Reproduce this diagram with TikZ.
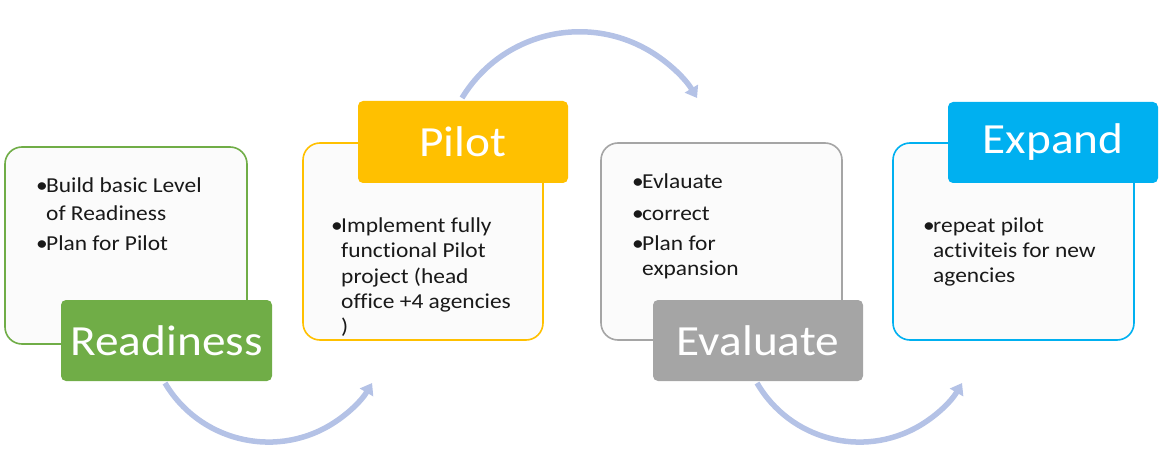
\documentclass[tikz,border=0pt]{standalone}
\usepackage{fontspec}
\setmainfont{Carlito}[FakeStretch=1.1,Ligatures=NoCommon]
\usetikzlibrary{arrows.meta}
\definecolor{cgreen}{HTML}{70AD47}
\definecolor{cgold}{HTML}{FFC000}
\definecolor{cgray}{HTML}{A5A5A5}
\definecolor{cblue}{HTML}{00B0F0}
\definecolor{carrow}{RGB}{180,194,230}
\definecolor{cfill}{HTML}{FBFBFB}
\newcommand\bodyline[4]{\node[body,anchor=base west] (#1) at (#2,-#3) {#4};}
\newcommand\bulletat[3]{\node[body,anchor=base west] (#1) at (#2,-#3) {•};}
\begin{document}
\begin{tikzpicture}[x=1pt,y=1pt,
  cbox/.style={draw=#1,line width=1.6pt,fill=cfill,rounded corners=17pt},
  lbox/.style={fill=#1,draw=none,rounded corners=5pt},
  lbl/.style={text=white,font=\fontsize{43}{50}\selectfont,inner sep=0pt},
  body/.style={font=\fontsize{21.3}{26}\selectfont,inner sep=0pt,text=black!90},
  cyc/.style={draw=carrow,line width=5.5pt,-{Triangle[length=11pt,width=15pt]}}]
\useasboundingbox (0,0) rectangle (1164,-465);
% arrows (behind)
\coordinate (a1s) at (165,-383);
\coordinate (a2s) at (462,-98);
\coordinate (a3s) at (757,-383);
\draw[cyc] (a1s) arc[start angle=210.6,end angle=329.4,radius=120.3];
\draw[cyc] (a2s) arc[start angle=148.8,end angle=31.2,radius=137.4];
\draw[cyc] (a3s) arc[start angle=210.1,end angle=329.9,radius=118.5];
% boxes
\path[cbox=cgreen] (5,-147) rectangle (247,-344);
\path[lbox=cgreen] (61,-300) rectangle (272,-381);
\node[lbl] (lready) at (166.5,-340.5) {Readiness};
\path[cbox=cgold] (303,-143) rectangle (543,-340);
\path[lbox=cgold] (358,-101) rectangle (568,-183);
\node[lbl] (lpilot) at (463,-142) {Pilot};
\path[cbox=cgray] (601,-143) rectangle (842,-340);
\path[lbox=cgray] (653,-300) rectangle (863,-381);
\node[lbl] (leval) at (758,-340.5) {Evaluate};
\path[cbox=cblue] (893,-143) rectangle (1134,-340);
\path[lbox=cblue] (948,-102) rectangle (1158,-183);
\node[lbl] (lexp) at (1053,-142.5) {Expand};
% texts box 1
\bulletat{b1a}{36}{193}\bodyline{t1a}{46}{193}{Build basic Level}
\bodyline{t1b}{46}{220}{of Readiness}
\bulletat{b1c}{36}{250}\bodyline{t1c}{46}{250}{Plan for Pilot}
% box 2
\bulletat{b2a}{331}{232}\bodyline{t2a}{341}{232}{Implement fully}
\bodyline{t2b}{341}{257}{functional Pilot}
\bodyline{t2c}{341}{283}{project (head}
\bodyline{t2d}{341}{308}{office +4 agencies}
\bodyline{t2e}{341}{333}{)}
% box 3
\bulletat{b3a}{632}{189}\bodyline{t3a}{642}{189}{Evlauate}
\bulletat{b3b}{632}{220}\bodyline{t3b}{642}{220}{correct}
\bulletat{b3c}{632}{250}\bodyline{t3c}{642}{250}{Plan for}
\bodyline{t3d}{642}{275}{expansion}
% box 4
\bulletat{b4a}{923}{232}\bodyline{t4a}{933}{232}{repeat pilot}
\bodyline{t4b}{933}{257}{activiteis for new}
\bodyline{t4c}{933}{282}{agencies}
\end{tikzpicture}
\end{document}
